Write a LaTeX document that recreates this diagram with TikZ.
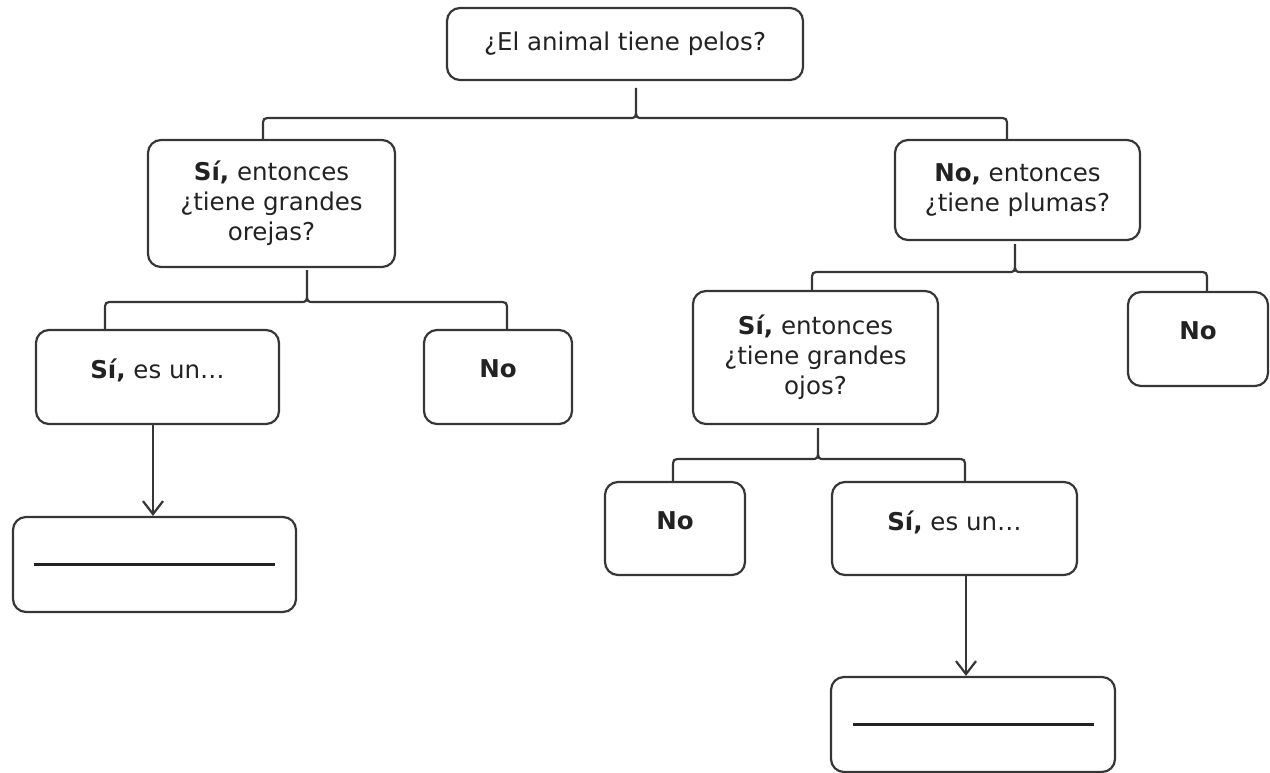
\documentclass[tikz,border=0pt]{standalone}
\usepackage{fontspec}
\setmainfont{DejaVu Sans}
\usetikzlibrary{arrows.meta}
\definecolor{ln}{HTML}{363636}
\definecolor{tx}{HTML}{222222}
\begin{document}
\begin{tikzpicture}[x=1pt,y=-1pt,
  box/.style={draw=ln,line width=2.2pt,rounded corners=13pt,align=center,text=tx,inner sep=0pt,
    font=\fontsize{24.5}{30}\selectfont},
  one/.style={text depth=16pt},
  link/.style={draw=ln,line width=2.2pt},
  arr/.style={link,-{Straight Barb[length=13pt,width=20pt]}}]
\useasboundingbox (0,0) rectangle (1270,773);

% boxes
\node[box,minimum width=356pt,minimum height=72pt] (top) at (625,44) {¿El animal tiene pelos?};
\node[box,minimum width=247pt,minimum height=127pt] (orejas) at (271.5,203.5)
  {\textbf{Sí,} entonces\\¿tiene grandes\\orejas?};
\node[box,minimum width=245pt,minimum height=100pt] (plumas) at (1017.5,190)
  {\textbf{No,} entonces\\¿tiene plumas?};
\node[box,one,minimum width=243pt,minimum height=94pt] (siL) at (157.5,377) {\textbf{Sí,} es un…};
\node[box,one,minimum width=148pt,minimum height=94pt] (noL) at (498,377) {\textbf{No}};
\node[box,minimum width=283pt,minimum height=95pt] (blankL) at (154.5,564.5) {\rule{241pt}{2.6pt}};
\node[box,minimum width=245pt,minimum height=133pt] (ojos) at (815.5,357.5)
  {\textbf{Sí,} entonces\\¿tiene grandes\\ojos?};
\node[box,one,minimum width=140pt,minimum height=94pt] (noR) at (1198,339) {\textbf{No}};
\node[box,one,minimum width=140pt,minimum height=93pt] (noB) at (675,528.5) {\textbf{No}};
\node[box,one,minimum width=245pt,minimum height=93pt] (siB) at (954.5,528.5) {\textbf{Sí,} es un…};
\node[box,minimum width=284pt,minimum height=95pt] (blankB) at (973,724.5) {\rule{241pt}{2.6pt}};

% brace stem tops
\coordinate (s1) at (636,88);
\coordinate (s2) at (307,270);
\coordinate (s3) at (1015,244);
\coordinate (s4) at (818,428);

% brace 1
\draw[link] (orejas.north -| 263,0) -- (263,127) .. controls (263,118) .. (272,118) -- (629,118)
  .. controls (636,118) .. (636,108) -- (s1)
  (plumas.north -| 1007,0) -- (1007,127) .. controls (1007,118) .. (998,118) -- (643,118)
  .. controls (636,118) .. (636,108);
% brace 2
\draw[link] (siL.north -| 105,0) -- (105,311) .. controls (105,302) .. (114,302) -- (300,302)
  .. controls (307,302) .. (307,292) -- (s2)
  (noL.north -| 507,0) -- (507,311) .. controls (507,302) .. (498,302) -- (314,302)
  .. controls (307,302) .. (307,292);
% brace 3
\draw[link] (ojos.north -| 812,0) -- (812,281) .. controls (812,272) .. (821,272) -- (1008,272)
  .. controls (1015,272) .. (1015,262) -- (s3)
  (noR.north -| 1207,0) -- (1207,281) .. controls (1207,272) .. (1198,272) -- (1022,272)
  .. controls (1015,272) .. (1015,262);
% brace 4
\draw[link] (noB.north -| 673,0) -- (673,468) .. controls (673,459) .. (682,459) -- (811,459)
  .. controls (818,459) .. (818,449) -- (s4)
  (siB.north -| 965,0) -- (965,468) .. controls (965,459) .. (956,459) -- (825,459)
  .. controls (818,459) .. (818,449);

% arrows
\draw[arr] (siL.south -| 153,0) -- (blankL.north -| 153,0);
\draw[arr] (siB.south -| 966,0) -- (blankB.north -| 966,0);
\end{tikzpicture}
\end{document}
